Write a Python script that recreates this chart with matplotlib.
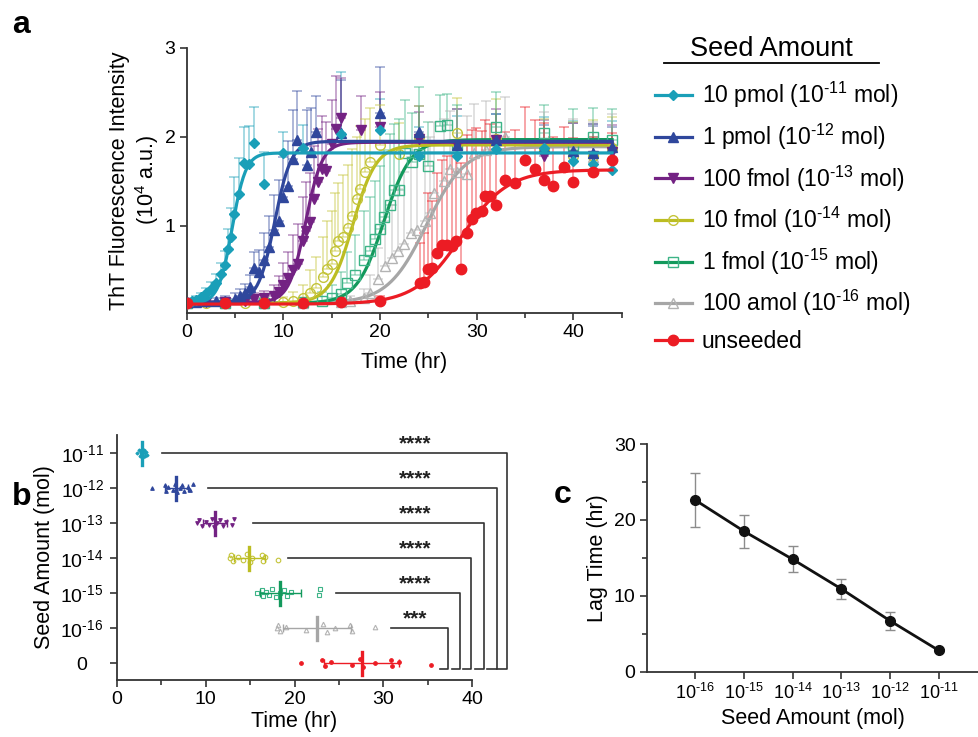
import numpy as np
import matplotlib
matplotlib.use("Agg")
import matplotlib.pyplot as plt
from matplotlib.lines import Line2D
from matplotlib.ticker import MultipleLocator, LogLocator, NullFormatter

plt.rcParams["font.family"] = ["Liberation Sans", "DejaVu Sans"]
plt.rcParams["mathtext.fontset"] = "custom"
plt.rcParams["mathtext.rm"] = "Liberation Sans"
plt.rcParams["mathtext.it"] = "Liberation Sans:italic"
plt.rcParams["mathtext.bf"] = "Liberation Sans:bold"


def pw(e):
    # "10" with a superscript that keeps the plain hyphen of the original
    return r"10$^{\text{%s}}$" % e


# ---------------- panel a: ThT kinetics (10^4 a.u.) ----------------
labels = ["10 pmol (%s mol)" % pw("-11"), "1 pmol (%s mol)" % pw("-12"),
          "100 fmol (%s mol)" % pw("-13"), "10 fmol (%s mol)" % pw("-14"),
          "1 fmol (%s mol)" % pw("-15"), "100 amol (%s mol)" % pw("-16"), "unseeded"]

t_10p = [0, 0.5, 1, 1.5, 2, 2.5, 3, 3.5, 4, 4.3, 4.6, 4.9, 5.4, 5.9, 6.4, 7.0, 8.0, 10, 12, 16, 20, 24, 28, 32, 37, 40, 42, 44]
y_10p = [0.13, 0.15, 0.17, 0.20, 0.24, 0.29, 0.36, 0.46, 0.56, 0.74, 0.87, 1.13, 1.36, 1.71, 1.70, 1.93, 1.47, 1.82, 1.88, 2.03, 2.08, 1.79, 1.78, 1.86, 1.87, 1.73, 1.69, 1.63]
e_10p = [0.03, 0.03, 0.04, 0.05, 0.06, 0.08, 0.10, 0.12, 0.16, 0.22, 0.33, 0.42, 0.40, 0.40, 0.42, 0.41, 0.36, 0.24, 0.25, 0.70, 0.35, 0.32, 0.45, 0.40, 0.35, 0.45, 0.45, 0.55]

t_1p = [0, 1, 2, 3, 4, 5, 5.5, 6, 6.5, 7, 7.5, 8, 8.5, 9, 9.5, 10, 10.5, 11, 11.4, 12.4, 12.9, 13.4, 16, 20, 24, 28, 32, 37, 40, 42, 44]
y_1p = [0.14, 0.14, 0.15, 0.15, 0.16, 0.18, 0.21, 0.25, 0.31, 0.53, 0.48, 0.62, 0.76, 0.95, 1.06, 1.32, 1.45, 1.75, 1.97, 1.68, 1.83, 2.06, 2.04, 2.27, 2.05, 1.91, 1.96, 1.88, 1.84, 1.82, 1.89]
e_1p = [0.03, 0.03, 0.03, 0.04, 0.05, 0.06, 0.08, 0.10, 0.14, 0.18, 0.25, 0.30, 0.35, 0.40, 0.45, 0.45, 0.50, 0.55, 0.55, 0.62, 0.50, 0.40, 0.60, 0.52, 0.30, 0.40, 0.30, 0.25, 0.32, 0.30, 0.22]

t_100f = [0, 2, 4, 6, 7, 8, 9, 9.5, 10, 10.5, 11, 11.5, 12, 12.3, 12.8, 13.2, 13.6, 14.0, 14.4, 15.0, 15.4, 16, 18, 20, 24, 28, 32, 37, 40, 42, 44]
y_100f = [0.13, 0.14, 0.14, 0.15, 0.18, 0.19, 0.21, 0.26, 0.33, 0.41, 0.50, 0.57, 0.83, 0.94, 1.04, 1.30, 1.49, 1.64, 1.62, 1.92, 2.09, 2.21, 2.08, 2.11, 1.98, 1.91, 1.96, 1.79, 1.78, 1.79, 1.83]
e_100f = [0.03, 0.03, 0.04, 0.05, 0.06, 0.08, 0.12, 0.18, 0.25, 0.30, 0.40, 0.45, 0.50, 0.55, 0.55, 0.60, 0.60, 0.60, 0.55, 0.50, 0.60, 0.45, 0.38, 0.40, 0.30, 0.40, 0.35, 0.40, 0.38, 0.35, 0.30]

t_10f = [0, 2, 4, 6, 8, 10, 11, 12, 12.8, 13.4, 14.1, 14.5, 15.0, 15.3, 15.7, 16.2, 16.7, 17.1, 17.6, 17.9, 18.4, 19.0, 20, 22, 24, 28, 32, 37, 40, 42, 44]
y_10f = [0.13, 0.13, 0.13, 0.13, 0.14, 0.14, 0.16, 0.19, 0.25, 0.30, 0.42, 0.51, 0.57, 0.72, 0.83, 0.87, 0.98, 1.11, 1.30, 1.42, 1.60, 1.72, 1.91, 1.81, 2.00, 2.04, 1.98, 1.85, 1.79, 1.79, 1.87]
e_10f = [0.03, 0.03, 0.03, 0.04, 0.05, 0.06, 0.10, 0.15, 0.25, 0.35, 0.45, 0.55, 0.60, 0.65, 0.65, 0.70, 0.70, 0.75, 0.70, 0.70, 0.60, 0.60, 0.45, 0.35, 0.35, 0.40, 0.45, 0.35, 0.38, 0.40, 0.35]

t_1f = [0, 4, 8, 12, 14, 15, 16, 16.6, 17.4, 18.3, 19.0, 19.5, 20.0, 20.4, 21.0, 21.4, 22.0, 22.6, 23.3, 24.0, 25.0, 26.2, 26.9, 28, 32, 37, 40, 42, 44]
y_1f = [0.13, 0.13, 0.13, 0.14, 0.16, 0.19, 0.23, 0.36, 0.45, 0.62, 0.72, 0.85, 0.97, 1.10, 1.23, 1.40, 1.40, 1.82, 1.72, 1.81, 1.67, 2.12, 2.13, 1.91, 2.11, 2.04, 1.91, 2.00, 1.96]
e_1f = [0.03, 0.03, 0.04, 0.05, 0.10, 0.15, 0.25, 0.35, 0.45, 0.55, 0.60, 0.65, 0.70, 0.75, 0.80, 0.75, 0.80, 0.60, 0.55, 0.75, 0.50, 0.35, 0.35, 0.45, 0.40, 0.32, 0.40, 0.32, 0.35]

t_100a = [0, 4, 8, 12, 16, 16.9, 18.3, 19.0, 19.8, 20.5, 21.2, 21.9, 22.5, 23.2, 23.8, 24.7, 25.2, 25.6, 26.6, 27.2, 28.0, 29.0, 29.7, 31.0, 32.9, 37, 40, 42, 44]
y_100a = [0.13, 0.13, 0.13, 0.13, 0.14, 0.15, 0.19, 0.25, 0.40, 0.55, 0.64, 0.72, 0.80, 0.92, 0.95, 1.05, 1.15, 1.37, 1.50, 1.64, 1.61, 1.58, 1.82, 1.85, 2.00, 1.88, 1.85, 1.77, 1.91]
e_100a = [0.03, 0.03, 0.03, 0.04, 0.05, 0.06, 0.10, 0.20, 0.35, 0.50, 0.60, 0.70, 0.80, 0.85, 0.90, 0.90, 0.85, 0.80, 0.70, 0.65, 0.70, 0.65, 0.55, 0.55, 0.45, 0.40, 0.35, 0.40, 0.35]

t_uns = [0, 4, 8, 12, 16, 20, 24.1, 24.5, 25.0, 25.4, 25.9, 26.4, 26.9, 27.4, 27.9, 28.4, 29.0, 29.5, 29.9, 30.5, 30.9, 31.4, 32.0, 32.9, 34.0, 35.0, 36.0, 37.0, 37.9, 39.0, 40.0, 42.0, 44.0]
y_uns = [0.13, 0.13, 0.13, 0.13, 0.14, 0.15, 0.36, 0.37, 0.52, 0.53, 0.69, 0.79, 0.79, 0.77, 0.83, 0.51, 0.92, 1.08, 1.15, 1.17, 1.34, 1.34, 1.23, 1.51, 1.48, 1.74, 1.64, 1.51, 1.45, 1.66, 1.49, 1.60, 1.74]
e_uns = [0.03, 0.03, 0.03, 0.04, 0.05, 0.06, 0.45, 0.55, 0.85, 0.75, 0.90, 0.95, 1.00, 1.05, 1.10, 1.20, 1.10, 1.00, 0.95, 0.90, 0.85, 0.80, 0.75, 0.55, 0.60, 0.60, 0.55, 0.65, 0.55, 0.45, 0.50, 0.40, 0.30]

# sigmoid fit parameters
fit_base = [0.13, 0.14, 0.14, 0.13, 0.13, 0.13, 0.12]
fit_top = [1.82, 1.95, 1.94, 1.91, 1.97, 1.89, 1.63]
fit_t50 = [4.7, 9.1, 12.3, 17.2, 20.4, 24.8, 28.4]
fit_k = [0.7, 0.85, 0.85, 1.2, 1.4, 2.0, 2.4]

# ---------------- panel b: lag time per well (hr) ----------------
b_cats = ["0", pw("-16"), pw("-15"), pw("-14"), pw("-13"), pw("-12"), pw("-11")]
lag_uns = [20.7, 23.1, 23.4, 24.1, 26.5, 27.4, 27.7, 29.0, 30.8, 31.0, 31.7, 35.3]
lag_16 = [18.0, 18.2, 18.4, 19.0, 21.3, 23.2, 23.6, 24.6, 26.2, 26.5, 29.0]
lag_15 = [15.8, 16.3, 16.5, 16.8, 17.1, 17.5, 17.9, 18.4, 18.8, 19.2, 19.6, 22.7, 22.9]
lag_14 = [12.8, 12.9, 13.1, 13.6, 14.2, 14.7, 15.0, 15.2, 16.3, 16.5, 16.7, 18.2]
lag_13 = [9.0, 9.3, 9.6, 10.0, 10.4, 10.7, 11.0, 11.3, 11.6, 12.0, 12.3, 13.0, 13.2]
lag_12 = [4.0, 5.4, 5.6, 5.8, 6.3, 6.6, 6.8, 7.1, 7.3, 7.6, 8.0, 8.3, 8.6]
lag_11 = [2.3, 2.5, 2.6, 2.7, 2.8, 2.9, 3.0, 3.0, 3.1, 3.2, 3.3, 3.4]
sig_marks = ["****", "****", "****", "****", "****", "***"]   # 10^-11 ... 10^-16 vs unseeded

# ---------------- panel c: lag time vs seed ----------------
c_seed = [1e-16, 1e-15, 1e-14, 1e-13, 1e-12, 1e-11]
c_ticklabels = [pw("-16"), pw("-15"), pw("-14"), pw("-13"), pw("-12"), pw("-11")]
c_lag = [22.6, 18.5, 14.8, 10.9, 6.7, 2.8]
c_sd = [3.6, 2.2, 1.7, 1.3, 1.2, 0.2]

# styles (index 0 = 10 pmol ... 6 = unseeded)
line_cols = ["#1a9fb8", "#2f479c", "#732283", "#bcbd22", "#13995c", "#a6a6a6", "#ec1c24"]
mark_cols = ["#1a9fb8", "#2f479c", "#732283", "#c4c43a", "#3db487", "#b3b3b3", "#ec1c24"]
markers = ["D", "^", "v", "o", "s", "^", "o"]
msizes = [5, 6.5, 6.5, 7, 7, 7, 7.5]
b_msizes = [1.6, 2.6, 2.6, 3.3, 3.3, 3.3, 2.6]
filled = [True, True, True, False, False, False, True]
zorders = [8, 7, 6, 5, 4, 3, 9]

series = [(t_10p, y_10p, e_10p), (t_1p, y_1p, e_1p), (t_100f, y_100f, e_100f),
          (t_10f, y_10f, e_10f), (t_1f, y_1f, e_1f), (t_100a, y_100a, e_100a),
          (t_uns, y_uns, e_uns)]

W, H = 979, 737
fig = plt.figure(figsize=(W / 100, H / 100), dpi=100)

def style_axis(ax):
    for s in ["top", "right"]:
        ax.spines[s].set_visible(False)
    for s in ["left", "bottom"]:
        ax.spines[s].set_linewidth(1.3)
        ax.spines[s].set_color("#333333")
    ax.tick_params(which="major", length=5, width=1.2, color="#333333", labelsize=14, pad=3)
    ax.tick_params(which="minor", length=3.5, width=1.2, color="#333333")

# ---- a ----
axA = fig.add_axes([186.7 / W, 1 - 313 / H, 435 / W, 265 / H])
style_axis(axA)
tt = np.linspace(0, 44, 400)
for i, (t, y, e) in enumerate(series):
    t = np.array(t); y = np.array(y); e = np.array(e)
    axA.errorbar(t, y, yerr=[np.zeros_like(e), e], fmt="none", ecolor=mark_cols[i],
                 alpha=0.5, elinewidth=1.1, capsize=3.5, capthick=1.1, zorder=1)
for i, (t, y, e) in enumerate(series):
    fit = fit_base[i] + (fit_top[i] - fit_base[i]) / (1 + np.exp(-(tt - fit_t50[i]) / fit_k[i]))
    axA.plot(tt, fit, color=line_cols[i], lw=2.3, zorder=zorders[i])
    axA.plot(t, y, ls="none", marker=markers[i], ms=msizes[i],
             mfc=mark_cols[i] if filled[i] else "none", mec=mark_cols[i],
             mew=1.0, zorder=zorders[i])
axA.set_xlim(0, 45)
axA.set_ylim(0.02, 3)
axA.xaxis.set_major_locator(MultipleLocator(10))
axA.xaxis.set_minor_locator(MultipleLocator(5))
axA.set_yticks([1, 2, 3])
axA.set_xlabel("Time (hr)", fontsize=15.5, labelpad=8)
axA.set_ylabel("ThT Fluorescence Intensity\n(10$^{4}$ a.u.)", fontsize=15.5, labelpad=3,
               linespacing=1.15)

# legend
handles = []
for i in range(7):
    handles.append(Line2D([], [], color=line_cols[i], lw=2.3, marker=markers[i],
                          ms=msizes[i], mfc=mark_cols[i] if filled[i] else "none",
                          mec=mark_cols[i]))
axA.legend(handles, labels, loc="upper left", bbox_to_anchor=(655 / W, 1 - 80 / H),
           bbox_transform=fig.transFigure, frameon=False, fontsize=16.5,
           handlelength=1.6, handletextpad=0.45, labelspacing=0.5,
           borderpad=0, borderaxespad=0, numpoints=1)
fig.text(771 / W, 1 - 56 / H, "Seed Amount", fontsize=19.5, ha="center", va="baseline")
fig.add_artist(Line2D([664 / W, 879 / W], [1 - 63 / H, 1 - 63 / H], color="black", lw=1.3))

# ---- b ----
axB = fig.add_axes([116.7 / W, 1 - 680 / H, 355.6 / W, 245 / H])
style_axis(axB)
b_data = [lag_uns, lag_16, lag_15, lag_14, lag_13, lag_12, lag_11]
jit = [0.0, 0.08, -0.08, 0.04, -0.04, 0.11, -0.11]
for pos, vals in enumerate(b_data):
    i = 6 - pos
    vals = np.array(vals)
    offs = np.array([jit[k % len(jit)] for k in range(len(vals))])
    axB.plot(vals, pos + offs, ls="none", marker=markers[i], ms=b_msizes[i],
             mfc=mark_cols[i] if filled[i] else "none", mec=mark_cols[i], mew=0.8, zorder=3)
    m, sd = vals.mean(), vals.std(ddof=1)
    axB.errorbar([m], [pos], xerr=[[sd], [sd]], fmt="none", ecolor=line_cols[i],
                 elinewidth=1.0, capsize=3, capthick=1.0, zorder=4)
    axB.plot([m, m], [pos - 0.33, pos + 0.33], color=line_cols[i], lw=2.4, zorder=5)

# significance brackets (10^-11 ... 10^-16 against unseeded)
br_start = [5.1, 10.3, 15.3, 19.3, 24.7, 30.8]
br_right = [43.95, 42.75, 41.3, 39.9, 38.6, 37.3]
br_foot = [42.8, 41.6, 40.3, 38.9, 37.7, 36.4]
for j in range(6):
    ypos = 6 - j
    axB.plot([br_start[j], br_right[j], br_right[j], br_foot[j]],
             [ypos, ypos, -0.17, -0.17], color="#333333", lw=1.2, clip_on=False, zorder=2)
    axB.text(33.6, ypos + 0.12, sig_marks[j], ha="center", va="baseline", fontsize=15,
             fontweight="bold", color="#222222")
axB.set_xlim(0, 40)
axB.set_ylim(-0.48, 6.52)
axB.xaxis.set_major_locator(MultipleLocator(10))
axB.xaxis.set_minor_locator(MultipleLocator(5))
axB.set_yticks(range(7))
axB.set_yticklabels(b_cats)
axB.tick_params(axis="y", labelsize=14, pad=20)
for lab in axB.get_yticklabels():
    lab.set_horizontalalignment("center")
axB.set_xlabel("Time (hr)", fontsize=15.5, labelpad=2)
axB.set_ylabel("Seed Amount (mol)", fontsize=15.5, labelpad=4)

# ---- c ----
axC = fig.add_axes([646.7 / W, 1 - 671.7 / H, 332 / W, 227.7 / H])
style_axis(axC)
axC.set_xscale("log")
axC.errorbar(c_seed, c_lag, yerr=c_sd, fmt="none", ecolor="#8c8c8c", elinewidth=1.0,
             capsize=3.5, capthick=1.0, zorder=2)
axC.plot(c_seed, c_lag, color="#111111", lw=2.0, marker="o", ms=7, zorder=3)
axC.set_xlim(1e-17, 10 ** -10.18)
axC.set_ylim(0, 30)
axC.set_xticks(c_seed)
axC.set_xticklabels(c_ticklabels)
axC.xaxis.set_minor_locator(LogLocator(base=10, subs=np.arange(2, 10)))
axC.xaxis.set_minor_formatter(NullFormatter())
axC.tick_params(axis="x", which="major", labelsize=13)
axC.tick_params(axis="x", which="minor", length=3)
axC.yaxis.set_major_locator(MultipleLocator(10))
axC.yaxis.set_minor_locator(MultipleLocator(5))
axC.set_xlabel("Seed Amount (mol)", fontsize=15.5, labelpad=4)
axC.set_ylabel("Lag Time (hr)", fontsize=15.5, labelpad=4)

# panel letters
fig.text(12 / W, 1 - 33 / H, "a", fontsize=23, fontweight="bold", va="baseline")
fig.text(12 / W, 1 - 505 / H, "b", fontsize=23, fontweight="bold", va="baseline")
fig.text(554 / W, 1 - 503 / H, "c", fontsize=23, fontweight="bold", va="baseline")

fig.savefig("out.png", dpi=100)
plt.close(fig)
